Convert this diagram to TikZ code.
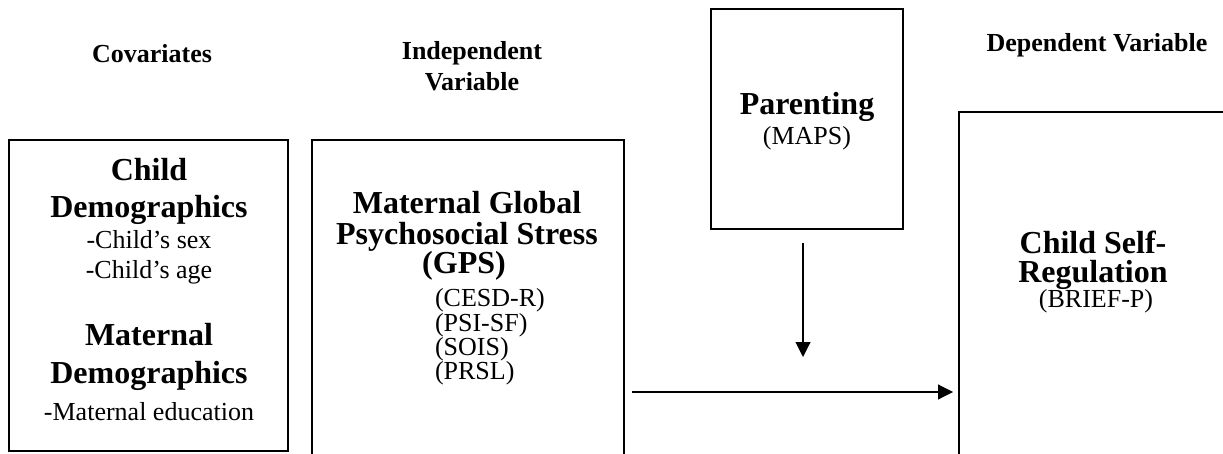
\documentclass[tikz,border=0pt]{standalone}
\usepackage{fontspec}
\setmainfont{Liberation Serif}
\usetikzlibrary{arrows.meta}
\newcommand\hdfont{\fontsize{32}{36}\selectfont\bfseries}
\newcommand\bdfont{\fontsize{26}{30}\selectfont}
\newcommand\hbfont{\fontsize{26}{30}\selectfont\bfseries}
\begin{document}
\begin{tikzpicture}[x=1pt,y=-1pt,
  box/.style={draw,line width=2pt,rectangle,anchor=north west,inner sep=0pt,outer sep=0pt},
  txt/.style={anchor=base,inner sep=0pt,outer sep=0pt},
  ltxt/.style={anchor=base west,inner sep=0pt,outer sep=0pt},
  arr/.style={line width=1.1pt,-{Triangle[length=15pt,width=15pt]}}]
\useasboundingbox (0,0) rectangle (1223,454);
% column headers
\node[txt,font=\hbfont] (hcov) at (152,63) {Covariates};
\node[txt,font=\hbfont] (hind1) at (472,60) {Independent};
\node[txt,font=\hbfont] (hind2) at (472,91) {Variable};
\node[txt,font=\hbfont] (hdep) at (1097,52) {Dependent Variable};
% boxes
\node[box,minimum width=279pt,minimum height=311pt] (cov) at (9,140) {};
\node[box,minimum width=312pt,minimum height=340pt] (gps) at (312,140) {};
\node[box,minimum width=192pt,minimum height=220pt] (par) at (711,9) {};
\node[box,minimum width=300pt,minimum height=400pt] (dep) at (959,112) {};
% covariates text
\node[txt,font=\hdfont] (c1) at (149,181) {Child};
\node[txt,font=\hdfont] (c2) at (149,218) {Demographics};
\node[txt,font=\bdfont] (c3) at (149,249) {-Child’s sex};
\node[txt,font=\bdfont] (c4) at (149,279) {-Child’s age};
\node[txt,font=\hdfont] (c5) at (149,345) {Maternal};
\node[txt,font=\hdfont] (c6) at (149,383) {Demographics};
\node[txt,font=\bdfont] (c7) at (149,420) {-Maternal education};
% GPS text
\node[txt,font=\hdfont] (g1) at (467,214) {Maternal Global};
\node[txt,font=\hdfont] (g2) at (467,245) {Psychosocial Stress};
\node[txt,font=\hdfont] (g3) at (464,274) {(GPS)};
\node[ltxt,font=\bdfont] (g4) at (435,306) {(CESD-R)};
\node[ltxt,font=\bdfont] (g5) at (435,331) {(PSI-SF)};
\node[ltxt,font=\bdfont] (g6) at (435,355) {(SOIS)};
\node[ltxt,font=\bdfont] (g7) at (435,379) {(PRSL)};
% parenting text
\node[txt,font=\hdfont] (p1) at (807,115) {Parenting};
\node[txt,font=\bdfont] (p2) at (807,145) {(MAPS)};
% dependent text
\node[txt,font=\hdfont] (d1) at (1093,254) {Child Self-};
\node[txt,font=\hdfont] (d2) at (1093,283) {Regulation};
\node[txt,font=\bdfont] (d3) at (1096,308) {(BRIEF-P)};
% connectors
\coordinate (vs) at (803,243);
\coordinate (ve) at (803,357);
\draw[arr] (vs) -- (ve);
\coordinate (hs) at (632,392);
\draw[arr,shorten >=6pt] (hs) -- (hs -| dep.west);
\end{tikzpicture}
\end{document}
